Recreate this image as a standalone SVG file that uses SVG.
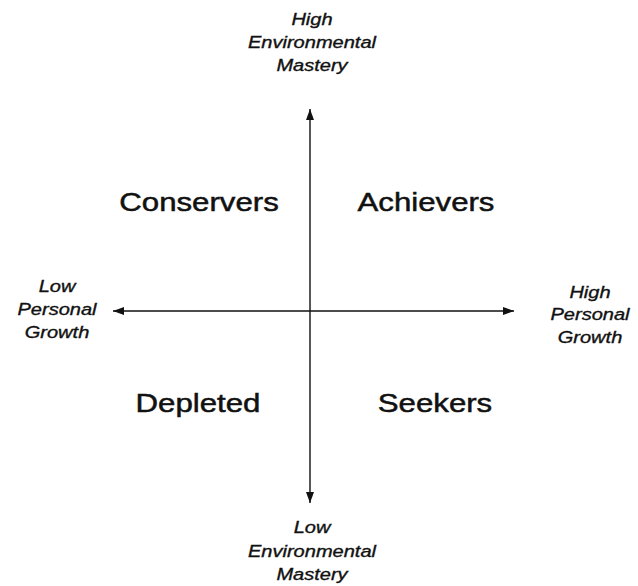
<svg xmlns="http://www.w3.org/2000/svg" width="638" height="586" viewBox="0 0 638 586">
<defs>
<style>
.ax{stroke:#111;stroke-width:1.4;fill:none}
.lbl{font-family:"Liberation Sans",Arial,sans-serif;font-style:italic;font-size:16.7px;fill:#111;stroke:#111;stroke-width:0.35;text-anchor:middle}
.q{font-family:"Liberation Sans",Arial,sans-serif;font-size:26px;fill:#111;stroke:#111;stroke-width:0.5;text-anchor:middle}
</style>
<marker id="ah" viewBox="0 0 11 8" refX="11" refY="4" markerWidth="11" markerHeight="8" markerUnits="userSpaceOnUse" orient="auto">
<path d="M0,0 L11,4 L0,8 Z" fill="#111"/>
</marker>
</defs>
<rect width="638" height="586" fill="#fff"/>
<g id="connectors">
<line class="ax" x1="310" y1="311" x2="310" y2="109" marker-end="url(#ah)"/>
<line class="ax" x1="310" y1="311" x2="310" y2="503" marker-end="url(#ah)"/>
<line class="ax" x1="310" y1="311" x2="113" y2="311" marker-end="url(#ah)"/>
<line class="ax" x1="310" y1="311" x2="514" y2="311" marker-end="url(#ah)"/>
</g>
<g id="high-env">
<text class="lbl" transform="translate(312,25) scale(1.2,1)">High</text>
<text class="lbl" transform="translate(312,48) scale(1.2,1)">Environmental</text>
<text class="lbl" transform="translate(312,71) scale(1.2,1)">Mastery</text>
</g>
<g id="low-env">
<text class="lbl" transform="translate(312,533) scale(1.2,1)">Low</text>
<text class="lbl" transform="translate(312,557) scale(1.2,1)">Environmental</text>
<text class="lbl" transform="translate(312,580) scale(1.2,1)">Mastery</text>
</g>
<g id="low-pg">
<text class="lbl" transform="translate(57,292) scale(1.2,1)">Low</text>
<text class="lbl" transform="translate(57,315) scale(1.2,1)">Personal</text>
<text class="lbl" transform="translate(57,338) scale(1.2,1)">Growth</text>
</g>
<g id="high-pg">
<text class="lbl" transform="translate(590,298) scale(1.2,1)">High</text>
<text class="lbl" transform="translate(590,320) scale(1.2,1)">Personal</text>
<text class="lbl" transform="translate(590,343) scale(1.2,1)">Growth</text>
</g>
<g id="conservers"><text class="q" transform="translate(199,211) scale(1.2,1)">Conservers</text></g>
<g id="achievers"><text class="q" transform="translate(426,211) scale(1.2,1)">Achievers</text></g>
<g id="depleted"><text class="q" transform="translate(198,412) scale(1.2,1)">Depleted</text></g>
<g id="seekers"><text class="q" transform="translate(435,412) scale(1.2,1)">Seekers</text></g>
</svg>
